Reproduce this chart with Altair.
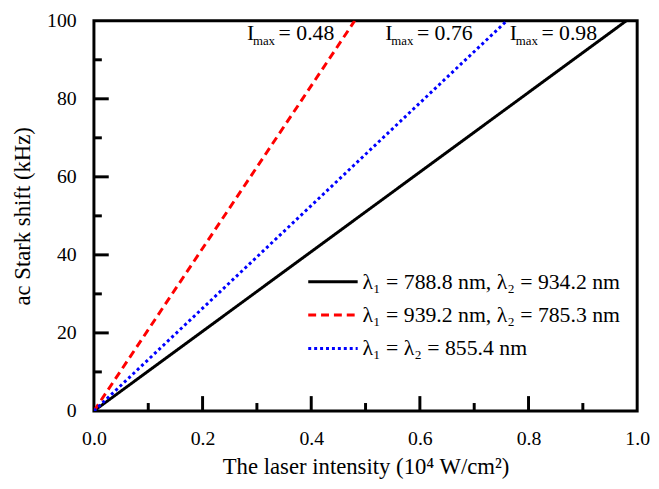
import altair as alt
import pandas as pd

# ---- data ----
series = ["λ₁ = 788.8 nm, λ₂ = 934.2 nm",
          "λ₁ = 939.2 nm, λ₂ = 785.3 nm",
          "λ₁ = λ₂ = 855.4 nm"]
i_max = [0.98, 0.48, 0.76]          # intensity where shift reaches 100 kHz
shift_max = [100, 100, 100]
colors = ["#000000", "#ff0000", "#0000ff"]
dashes = [[1, 0], [8, 5], [3, 3]]

x_major = [0.2, 0.4, 0.6, 0.8]
x_minor = [0.1, 0.3, 0.5, 0.7, 0.9]
y_major = [20, 40, 60, 80]
y_minor = [10, 30, 50, 70, 90]

# annotation / legend placement (data units)
label_x = [0.7655, 0.2818, 0.5364]
legend_y = [33.1, 24.6, 16.0]
legend_x1, legend_x2, legend_tx = 0.3945, 0.4855, 0.4945

W, H = 550, 395
FONT = "'Liberation Serif', 'Times New Roman', Tinos, 'DejaVu Serif', serif"

rows = []
for s, xm, ym in zip(series, i_max, shift_max):
    rows.append({"series": s, "x": 0.0, "y": 0.0, "o": 0})
    rows.append({"series": s, "x": xm, "y": ym, "o": 1})
line_df = pd.DataFrame(rows)

xs = alt.Scale(domain=[0, 1], nice=False, zero=False)
ys = alt.Scale(domain=[0, 100], nice=False, zero=False)
cs = alt.Scale(domain=series, range=colors)
ds = alt.Scale(domain=series, range=dashes)

lines = alt.Chart(line_df).mark_line(strokeWidth=3, clip=True).encode(
    x=alt.X("x:Q", scale=xs,
            axis=alt.Axis(title="The laser intensity (10⁴ W/cm²)", values=[0, 0.2, 0.4, 0.6, 0.8, 1.0],
                          format=".1f", ticks=False, tickSize=0, domain=False, grid=False,
                          labelFlush=False, labelPadding=18, titlePadding=7)),
    y=alt.Y("y:Q", scale=ys,
            axis=alt.Axis(title="ac Stark shift (kHz)", values=[0, 20, 40, 60, 80, 100],
                          ticks=False, tickSize=0, domain=False, grid=False,
                          labelFlush=False, labelPadding=18, titlePadding=12)),
    color=alt.Color("series:N", scale=cs, legend=None),
    strokeDash=alt.StrokeDash("series:N", scale=ds, legend=None),
    order="o:Q",
    detail="series:N",
)

# inward ticks
def xticks(vals, length):
    return alt.Chart(pd.DataFrame({"v": vals})).mark_rule(strokeWidth=3, color="black").encode(
        x=alt.X("v:Q", scale=xs), y=alt.value(H), y2=alt.value(H - length))

def yticks(vals, length):
    return alt.Chart(pd.DataFrame({"v": vals})).mark_rule(strokeWidth=3, color="black").encode(
        y=alt.Y("v:Q", scale=ys), x=alt.value(0), x2=alt.value(length))

# legend drawn inside the plot
leg_df = pd.DataFrame({"series": series, "y": legend_y,
                       "x1": [legend_x1] * 3, "x2": [legend_x2] * 3, "tx": [legend_tx] * 3})
leg_lines = alt.Chart(leg_df).mark_rule(strokeWidth=3).encode(
    x=alt.X("x1:Q", scale=xs), x2="x2:Q", y=alt.Y("y:Q", scale=ys),
    color=alt.Color("series:N", scale=cs, legend=None),
    strokeDash=alt.StrokeDash("series:N", scale=ds, legend=None))
leg_text = alt.Chart(leg_df).mark_text(align="left", baseline="middle", font=FONT,
                                       fontSize=22, color="black").encode(
    x=alt.X("tx:Q", scale=xs), y=alt.Y("y:Q", scale=ys), text="series:N")

# I_max annotations
ann_df = pd.DataFrame({"x": label_x, "y": [100] * 3,
                       "val": [f"= {v:.2f}" for v in i_max]})
ann_I = alt.Chart(ann_df).mark_text(align="left", baseline="alphabetic", font=FONT,
                                    fontSize=22, dy=19, color="black").encode(
    x=alt.X("x:Q", scale=xs), y=alt.Y("y:Q", scale=ys), text=alt.value("I"))
ann_sub = alt.Chart(ann_df).mark_text(align="left", baseline="alphabetic", font=FONT,
                                      fontSize=13, dx=6, dy=25, color="black").encode(
    x=alt.X("x:Q", scale=xs), y=alt.Y("y:Q", scale=ys), text=alt.value("max"))
ann_val = alt.Chart(ann_df).mark_text(align="left", baseline="alphabetic", font=FONT,
                                      fontSize=22, dx=32, dy=19, color="black").encode(
    x=alt.X("x:Q", scale=xs), y=alt.Y("y:Q", scale=ys), text="val:N")

chart = alt.layer(
    lines,
    xticks(x_major, 15), xticks(x_minor, 8), yticks(y_major, 15), yticks(y_minor, 8),
    leg_lines, leg_text, ann_I, ann_sub, ann_val,
).properties(
    width=W, height=H,
    padding={"left": 87, "top": 10, "right": 14, "bottom": 68},
    autosize=alt.AutoSizeParams(type="none"),
).configure_view(
    stroke="black", strokeWidth=3
).configure_axis(
    labelFont=FONT, titleFont=FONT, labelFontSize=20, titleFontSize=23,
    labelColor="black", titleColor="black", titleFontWeight="normal"
)

chart.save("out.html", embed_options={"renderer": "svg", "actions": False})
